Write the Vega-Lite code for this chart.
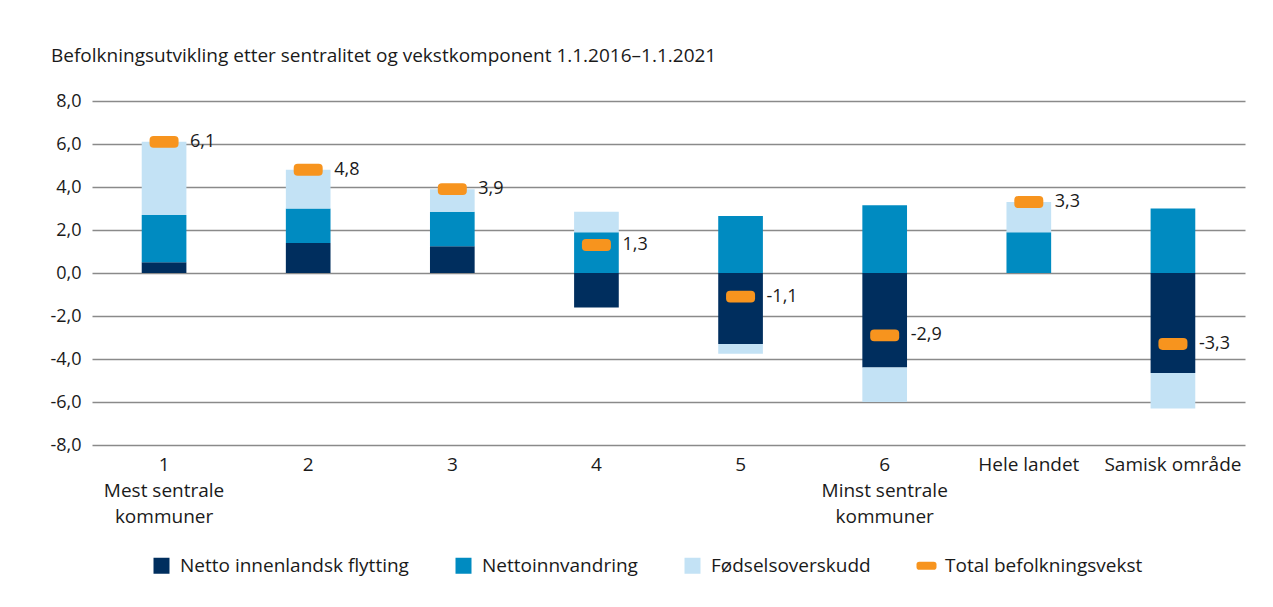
{
  "$schema": "https://vega.github.io/schema/vega-lite/v6.json",
  "autosize": {"type": "none"},
  "padding": {"left": 92, "top": 101, "right": 28, "bottom": 162},
  "width": 1153,
  "height": 344,
  "background": "white",
  "title": {
    "text": "Befolkningsutvikling etter sentralitet og vekstkomponent 1.1.2016–1.1.2021",
    "anchor": "start",
    "frame": "group",
    "dx": -41,
    "offset": 11,
    "baseline": "alphabetic",
    "font": "Open Sans",
    "fontSize": 19,
    "fontWeight": "normal",
    "color": "#1a1a1a"
  },
  "datasets": {
    "komponenter": [
      {"kat": "1", "serie": "Netto innenlandsk flytting", "nr": 1, "verdi": 0.5},
      {"kat": "1", "serie": "Nettoinnvandring", "nr": 2, "verdi": 2.2},
      {"kat": "1", "serie": "Fødselsoverskudd", "nr": 3, "verdi": 3.4},
      {"kat": "2", "serie": "Netto innenlandsk flytting", "nr": 1, "verdi": 1.4},
      {"kat": "2", "serie": "Nettoinnvandring", "nr": 2, "verdi": 1.6},
      {"kat": "2", "serie": "Fødselsoverskudd", "nr": 3, "verdi": 1.8},
      {"kat": "3", "serie": "Netto innenlandsk flytting", "nr": 1, "verdi": 1.25},
      {"kat": "3", "serie": "Nettoinnvandring", "nr": 2, "verdi": 1.6},
      {"kat": "3", "serie": "Fødselsoverskudd", "nr": 3, "verdi": 1.05},
      {"kat": "4", "serie": "Netto innenlandsk flytting", "nr": 1, "verdi": -1.6},
      {"kat": "4", "serie": "Nettoinnvandring", "nr": 2, "verdi": 1.9},
      {"kat": "4", "serie": "Fødselsoverskudd", "nr": 3, "verdi": 0.95},
      {"kat": "5", "serie": "Netto innenlandsk flytting", "nr": 1, "verdi": -3.3},
      {"kat": "5", "serie": "Nettoinnvandring", "nr": 2, "verdi": 2.65},
      {"kat": "5", "serie": "Fødselsoverskudd", "nr": 3, "verdi": -0.45},
      {"kat": "6", "serie": "Netto innenlandsk flytting", "nr": 1, "verdi": -4.4},
      {"kat": "6", "serie": "Nettoinnvandring", "nr": 2, "verdi": 3.15},
      {"kat": "6", "serie": "Fødselsoverskudd", "nr": 3, "verdi": -1.6},
      {"kat": "Hele landet", "serie": "Netto innenlandsk flytting", "nr": 1, "verdi": 0.0},
      {"kat": "Hele landet", "serie": "Nettoinnvandring", "nr": 2, "verdi": 1.9},
      {"kat": "Hele landet", "serie": "Fødselsoverskudd", "nr": 3, "verdi": 1.4},
      {"kat": "Samisk område", "serie": "Netto innenlandsk flytting", "nr": 1, "verdi": -4.65},
      {"kat": "Samisk område", "serie": "Nettoinnvandring", "nr": 2, "verdi": 3.0},
      {"kat": "Samisk område", "serie": "Fødselsoverskudd", "nr": 3, "verdi": -1.65}
    ],
    "total": [
      {"kat": "1", "serie": "Total befolkningsvekst", "verdi": 6.1},
      {"kat": "2", "serie": "Total befolkningsvekst", "verdi": 4.8},
      {"kat": "3", "serie": "Total befolkningsvekst", "verdi": 3.9},
      {"kat": "4", "serie": "Total befolkningsvekst", "verdi": 1.3},
      {"kat": "5", "serie": "Total befolkningsvekst", "verdi": -1.1},
      {"kat": "6", "serie": "Total befolkningsvekst", "verdi": -2.9},
      {"kat": "Hele landet", "serie": "Total befolkningsvekst", "verdi": 3.3},
      {"kat": "Samisk område", "serie": "Total befolkningsvekst", "verdi": -3.3}
    ]
  },
  "encoding": {
    "x": {
      "field": "kat",
      "type": "nominal",
      "sort": null,
      "scale": {"paddingInner": 0.69, "paddingOuter": 0.345},
      "axis": {
        "title": null,
        "domain": false,
        "ticks": false,
        "labelAngle": 0,
        "labelPadding": 10,
        "labelFont": "Open Sans",
        "labelFontSize": 19,
        "labelLineHeight": 26,
        "labelColor": "#1a1a1a",
        "labelExpr": "datum.value == '1' ? ['1', 'Mest sentrale', 'kommuner'] : datum.value == '6' ? ['6', 'Minst sentrale', 'kommuner'] : datum.value"
      }
    }
  },
  "layer": [
    {
      "data": {"name": "komponenter"},
      "mark": {"type": "bar"},
      "encoding": {
        "y": {
          "field": "verdi",
          "type": "quantitative",
          "stack": "zero",
          "scale": {"domain": [-8, 8], "nice": false},
          "axis": {
            "title": null,
            "values": [-8, -6, -4, -2, 0, 2, 4, 6, 8],
            "format": ".1f",
            "domain": false,
            "ticks": false,
            "grid": true,
            "gridColor": "#8a8a8a",
            "gridWidth": 1.5,
            "labelPadding": 11,
            "labelFont": "Open Sans",
            "labelFontSize": 18,
            "labelColor": "#1a1a1a"
          }
        },
        "color": {
          "field": "serie",
          "type": "nominal",
          "scale": {
            "domain": ["Netto innenlandsk flytting", "Nettoinnvandring", "Fødselsoverskudd", "Total befolkningsvekst"],
            "range": ["#002E5E", "#008BC1", "#C3E2F5", "#F7941E"]
          },
          "legend": {
            "title": null,
            "orient": "none",
            "direction": "horizontal",
            "legendX": 60,
            "legendY": 455,
            "labelFont": "Open Sans",
            "labelFontSize": 19,
            "labelColor": "#1a1a1a",
            "labelLimit": 0,
            "labelOffset": 9,
            "columnPadding": 45,
            "symbolSize": 256,
            "symbolStrokeWidth": 0,
            "encode": {
              "symbols": {
                "update": {
                  "size": {"signal": "datum.label == 'Total befolkningsvekst' ? 400 : 256"}
                }
              }
            }
          }
        },
        "order": {"field": "nr", "type": "quantitative"}
      }
    },
    {
      "data": {"name": "total"},
      "mark": {"type": "point", "filled": true, "opacity": 1, "size": 841, "strokeWidth": 0},
      "encoding": {
        "y": {"field": "verdi", "type": "quantitative"},
        "color": {"field": "serie", "type": "nominal"},
        "shape": {
          "field": "serie",
          "type": "nominal",
          "scale": {
            "domain": ["Netto innenlandsk flytting", "Nettoinnvandring", "Fødselsoverskudd", "Total befolkningsvekst"],
            "range": ["square", "square", "square", "M-0.72,-0.41 L0.72,-0.41 Q1,-0.41 1,-0.13 L1,0.13 Q1,0.41 0.72,0.41 L-0.72,0.41 Q-1,0.41 -1,0.13 L-1,-0.13 Q-1,-0.41 -0.72,-0.41 Z"]
          },
          "legend": {"title": null}
        }
      }
    },
    {
      "data": {"name": "total"},
      "mark": {"type": "text", "align": "left", "baseline": "middle", "dx": 26, "font": "Open Sans", "fontSize": 18, "color": "#1a1a1a"},
      "encoding": {
        "y": {"field": "verdi", "type": "quantitative"},
        "text": {"field": "verdi", "type": "quantitative", "format": ".1f"}
      }
    }
  ],
  "config": {
    "locale": {
      "number": {"decimal": ",", "thousands": " ", "grouping": [3], "currency": ["", " kr"], "minus": "-"}
    },
    "view": {"stroke": null}
  }
}
